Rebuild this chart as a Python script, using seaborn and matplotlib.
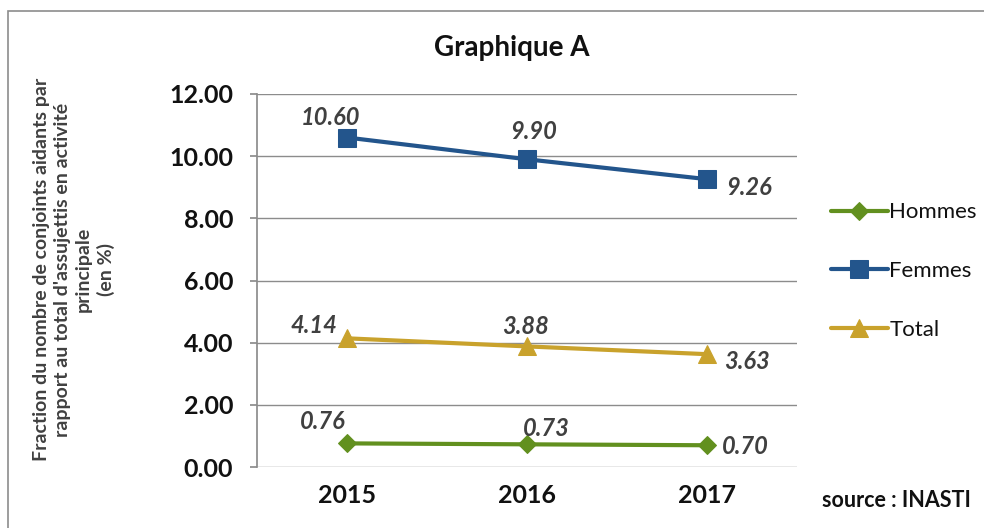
import pandas as pd
import matplotlib.pyplot as plt
import seaborn as sns
from matplotlib.patches import Rectangle

sns.set_theme(style="white")
plt.rcParams['font.family'] = ['Lato', 'DejaVu Sans']

# Data
years = ["2015", "2016", "2017"]
hommes = [0.76, 0.73, 0.70]
femmes = [10.60, 9.90, 9.26]
total = [4.14, 3.88, 3.63]

series_names = ["Hommes", "Femmes", "Total"]
colors = {"Hommes": "#62901f", "Femmes": "#23558c", "Total": "#c9a22c"}
markers = {"Hommes": "D", "Femmes": "s", "Total": "^"}
msizes = {"Hommes": 9, "Femmes": 13, "Total": 13}

df = pd.DataFrame({
    "pos": list(range(len(years))) * 3,
    "value": hommes + femmes + total,
    "serie": ["Hommes"] * 3 + ["Femmes"] * 3 + ["Total"] * 3,
})

fig = plt.figure(figsize=(9.84, 5.28), dpi=100)
ax = fig.add_axes([0.261, 0.1155, 0.549, 0.7065])

for name in series_names:
    d = df[df["serie"] == name]
    sns.lineplot(data=d, x="pos", y="value", ax=ax, color=colors[name],
                 marker=markers[name], markersize=msizes[name], linewidth=3,
                 markeredgecolor=colors[name], label=name)

ax.set_xlim(-0.5, 2.5)
ax.set_ylim(0, 12)
ax.set_yticks([0, 2, 4, 6, 8, 10, 12])
ax.set_yticklabels([f"{v:.2f}" for v in [0, 2, 4, 6, 8, 10, 12]],
                   fontsize=18, fontweight="bold", color="#111111")
ax.set_xticks(range(len(years)))
ax.set_xticklabels(years, fontsize=18, fontweight="bold", color="#111111")
ax.set_xlabel("")
ax.set_ylabel("")
ax.grid(axis="y", color="#8c8c8c", linewidth=1)
ax.set_axisbelow(True)
for s in ["top", "right", "bottom"]:
    ax.spines[s].set_visible(False)
ax.spines["left"].set_color("#8c8c8c")
ax.tick_params(axis="y", length=5, color="#8c8c8c", direction="out", pad=12, left=True)
ax.tick_params(axis="x", length=0, pad=12)

# Data labels (offsets in pixels)
lbl = dict(fontsize=17, fontweight="bold", fontstyle="italic", color="#404040",
           ha="center", va="center")
offsets = {
    "Femmes": [(-16, 20), (7, 28), (42, -8)],
    "Total": [(-33, 13), (-1, 20), (40, -7)],
    "Hommes": [(-24, 22), (19, 16), (38, -1)],
}
vals = {"Hommes": hommes, "Femmes": femmes, "Total": total}
for name in series_names:
    for i, v in enumerate(vals[name]):
        dx, dy = offsets[name][i]
        ax.annotate(f"{v:.2f}", (i, v), xytext=(dx, dy),
                    textcoords="offset pixels", **lbl)

leg = ax.legend(loc="center left", bbox_to_anchor=(1.025, 0.525), frameon=False,
                fontsize=16, labelspacing=1.75, handlelength=2.6, handletextpad=0.05)
for t in leg.get_texts():
    t.set_color("#111111")

fig.text(0.52, 0.91, "Graphique A", ha="center", va="center",
         fontsize=20, fontweight="bold", color="#111111")
fig.text(0.075, 0.489,
         "Fraction du nombre de conjoints aidants par\n"
         "rapport au total d'assujettis en activité\n"
         "principale\n(en %)",
         rotation=90, ha="center", va="center", fontsize=14,
         fontweight="bold", color="#404040", linespacing=1.3)
fig.text(0.835, 0.053, "source : INASTI", ha="left", va="center",
         fontsize=15.5, fontweight="bold", color="#111111")

# Chart frame
fig.patches.append(Rectangle((0.008, -0.05), 1.1, 1.03, transform=fig.transFigure,
                             fill=False, edgecolor="#8c8c8c", linewidth=1.2))

fig.savefig("out.png", dpi=100)
